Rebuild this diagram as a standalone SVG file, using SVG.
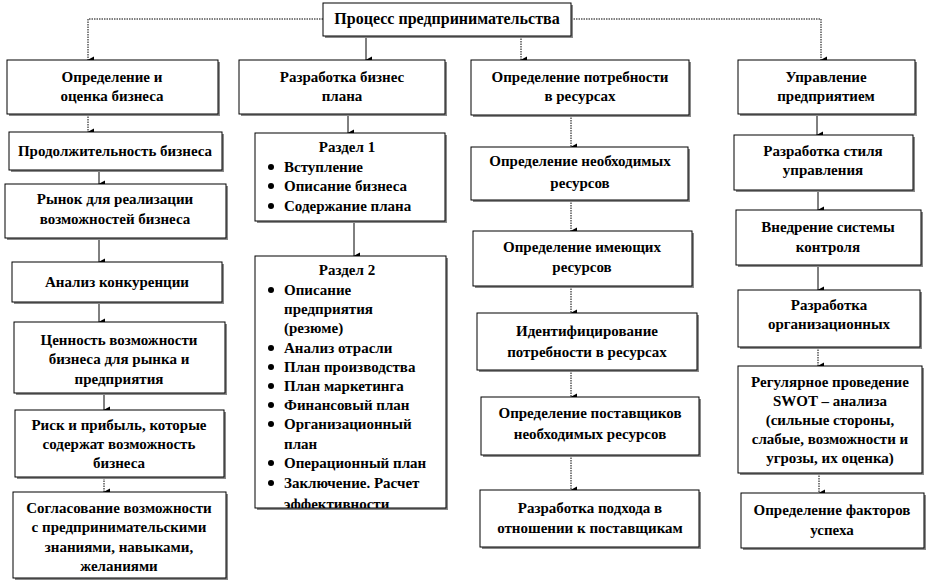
<svg xmlns="http://www.w3.org/2000/svg" width="928" height="582" viewBox="0 0 928 582" font-family="'Liberation Serif','DejaVu Serif',serif">
<style>
.box{fill:#fff;stroke:#000;stroke-width:1}
.sh{fill:#8a8a8a}
text{font-family:"Liberation Serif","DejaVu Serif",serif;font-weight:bold;font-size:15px;fill:#000}
.c{text-anchor:middle}
.ln{fill:none;stroke:#000;stroke-width:1}
.dot{stroke-dasharray:1.5,1}
</style>
<defs>
<marker id="ah" markerWidth="8" markerHeight="8" refX="4" refY="7" orient="auto-start-reverse" markerUnits="userSpaceOnUse" viewBox="0 0 8 8">
<path d="M0.5,1 L7.5,1 L4,7.5 Z" fill="#000"/>
</marker>
<clipPath id="clip2"><rect x="255" y="256" width="191" height="252"/></clipPath>
</defs>
<rect width="928" height="582" fill="#fff"/>

<g id="connectors">
<path class="ln dot" d="M323,19 H88 V60" marker-end="url(#ah)"/>
<path class="ln" d="M366,36 V60" marker-end="url(#ah)"/>
<path class="ln dot" d="M521,36 V60" marker-end="url(#ah)"/>
<path class="ln dot" d="M571,19 H821 V60" marker-end="url(#ah)"/>
<path class="ln dot" d="M88,114 V132" marker-end="url(#ah)"/>
<path class="ln" d="M99,172 V184" marker-end="url(#ah)"/>
<path class="ln" d="M99,240 V262" marker-end="url(#ah)"/>
<path class="ln" d="M99,303 V322" marker-end="url(#ah)"/>
<path class="ln" d="M104,394 V410" marker-end="url(#ah)"/>
<path class="ln dot" d="M104,478 V492" marker-end="url(#ah)"/>
<path class="ln" d="M348,114 V133" marker-end="url(#ah)"/>
<path class="ln" d="M354,221 V256" marker-end="url(#ah)"/>
<path class="ln dot" d="M571,115 V147" marker-end="url(#ah)"/>
<path class="ln dot" d="M571,200 V231" marker-end="url(#ah)"/>
<path class="ln dot" d="M571,286 V313" marker-end="url(#ah)"/>
<path class="ln dot" d="M571,370 V397" marker-end="url(#ah)"/>
<path class="ln dot" d="M571,455 V490" marker-end="url(#ah)"/>
<path class="ln" d="M817,114 V135" marker-end="url(#ah)"/>
<path class="ln" d="M818,190 V210" marker-end="url(#ah)"/>
<path class="ln" d="M818,265 V290" marker-end="url(#ah)"/>
<path class="ln dot" d="M818,347 V366" marker-end="url(#ah)"/>
<path class="ln dot" d="M819,473 V493" marker-end="url(#ah)"/>
</g>

<g id="top">
<rect class="sh" x="325" y="5" width="248" height="33"/>
<rect class="box" x="323" y="3" width="248" height="33"/>
<text class="c" x="447" y="24" style="font-size:16px">Процесс предпринимательства</text>
</g>

<g id="h1">
<rect class="sh" x="9" y="62" width="211" height="54"/>
<rect class="box" x="7" y="60" width="211" height="54"/>
<text class="c" x="112" y="82">Определение и</text>
<text class="c" x="112" y="101">оценка бизнеса</text>
</g>
<g id="h2">
<rect class="sh" x="241" y="62" width="206" height="54"/>
<rect class="box" x="239" y="60" width="206" height="54"/>
<text class="c" x="342" y="82">Разработка бизнес</text>
<text class="c" x="342" y="101">плана</text>
</g>
<g id="h3">
<rect class="sh" x="473" y="62" width="218" height="55"/>
<rect class="box" x="471" y="60" width="218" height="55"/>
<text class="c" x="580" y="82">Определение потребности</text>
<text class="c" x="580" y="101">в ресурсах</text>
</g>
<g id="h4">
<rect class="sh" x="740" y="62" width="177" height="54"/>
<rect class="box" x="738" y="60" width="177" height="54"/>
<text class="c" x="826" y="82">Управление</text>
<text class="c" x="826" y="101">предприятием</text>
</g>

<g id="c1n1">
<rect class="sh" x="11" y="134" width="213" height="38"/>
<rect class="box" x="9" y="132" width="213" height="38"/>
<text class="c" x="115" y="156">Продолжительность бизнеса</text>
</g>
<g id="c1n2">
<rect class="sh" x="7" y="186" width="221" height="54"/>
<rect class="box" x="5" y="184" width="221" height="54"/>
<text class="c" x="115" y="204">Рынок для реализации</text>
<text class="c" x="115" y="224">возможностей бизнеса</text>
</g>
<g id="c1n3">
<rect class="sh" x="14" y="264" width="210" height="40"/>
<rect class="box" x="12" y="262" width="210" height="40"/>
<text class="c" x="117" y="287">Анализ конкуренции</text>
</g>
<g id="c1n4">
<rect class="sh" x="16" y="324" width="211" height="71"/>
<rect class="box" x="14" y="322" width="211" height="71"/>
<text class="c" x="119" y="345">Ценность возможности</text>
<text class="c" x="119" y="364">бизнеса для рынка и</text>
<text class="c" x="119" y="384">предприятия</text>
</g>
<g id="c1n5">
<rect class="sh" x="17" y="412" width="209" height="67"/>
<rect class="box" x="15" y="410" width="209" height="67"/>
<text class="c" x="119" y="430">Риск и прибыль, которые</text>
<text class="c" x="119" y="449">содержат возможность</text>
<text class="c" x="119" y="468">бизнеса</text>
</g>
<g id="c1n6">
<rect class="sh" x="15" y="494" width="213" height="86"/>
<rect class="box" x="13" y="492" width="213" height="86"/>
<text class="c" x="119" y="513">Согласование возможности</text>
<text class="c" x="119" y="532">с предпринимательскими</text>
<text class="c" x="119" y="552">знаниями, навыками,</text>
<text class="c" x="119" y="571">желаниями</text>
</g>

<g id="c2n1">
<rect class="sh" x="257" y="135" width="190" height="88"/>
<rect class="box" x="255" y="133" width="190" height="88"/>
<text class="c" x="347" y="152">Раздел 1</text>
<circle cx="271" cy="167" r="3"/><text x="284" y="172">Вступление</text>
<circle cx="271" cy="186" r="3"/><text x="284" y="191">Описание бизнеса</text>
<circle cx="271" cy="206" r="3"/><text x="284" y="211">Содержание плана</text>
</g>
<g id="c2n2">
<rect class="sh" x="257" y="258" width="191" height="252"/>
<rect class="box" x="255" y="256" width="191" height="252"/>
<g clip-path="url(#clip2)">
<text class="c" x="347" y="275">Раздел 2</text>
<circle cx="271" cy="290" r="3"/><text x="284" y="295">Описание</text>
<text x="284" y="314">предприятия</text>
<text x="284" y="333">(резюме)</text>
<circle cx="271" cy="348" r="3"/><text x="284" y="353">Анализ отрасли</text>
<circle cx="271" cy="367" r="3"/><text x="284" y="372">План производства</text>
<circle cx="271" cy="386" r="3"/><text x="284" y="391">План маркетинга</text>
<circle cx="271" cy="405" r="3"/><text x="284" y="410">Финансовый план</text>
<circle cx="271" cy="424" r="3"/><text x="284" y="429">Организационный</text>
<text x="284" y="449">план</text>
<circle cx="271" cy="463" r="3"/><text x="284" y="468">Операционный план</text>
<circle cx="271" cy="483" r="3"/><text x="284" y="488">Заключение. Расчет</text>
<text x="284" y="509">эффективности</text>
</g>
</g>

<g id="c3n1">
<rect class="sh" x="473" y="149" width="217" height="53"/>
<rect class="box" x="471" y="147" width="217" height="53"/>
<text class="c" x="580" y="166">Определение необходимых</text>
<text class="c" x="580" y="188">ресурсов</text>
</g>
<g id="c3n2">
<rect class="sh" x="475" y="233" width="219" height="55"/>
<rect class="box" x="473" y="231" width="219" height="55"/>
<text class="c" x="582" y="252">Определение имеющих</text>
<text class="c" x="582" y="272">ресурсов</text>
</g>
<g id="c3n3">
<rect class="sh" x="479" y="315" width="220" height="57"/>
<rect class="box" x="477" y="313" width="220" height="57"/>
<text class="c" x="587" y="336">Идентифицирование</text>
<text class="c" x="587" y="357">потребности в  ресурсах</text>
</g>
<g id="c3n4">
<rect class="sh" x="483" y="399" width="218" height="58"/>
<rect class="box" x="481" y="397" width="218" height="58"/>
<text class="c" x="590" y="418">Определение поставщиков</text>
<text class="c" x="590" y="439">необходимых ресурсов</text>
</g>
<g id="c3n5">
<rect class="sh" x="482" y="492" width="219" height="57"/>
<rect class="box" x="480" y="490" width="219" height="57"/>
<text class="c" x="590" y="513">Разработка подхода в</text>
<text class="c" x="590" y="533">отношении к поставщикам</text>
</g>

<g id="c4n1">
<rect class="sh" x="736" y="137" width="179" height="55"/>
<rect class="box" x="734" y="135" width="179" height="55"/>
<text class="c" x="823" y="156">Разработка стиля</text>
<text class="c" x="823" y="175">управления</text>
</g>
<g id="c4n2">
<rect class="sh" x="738" y="212" width="185" height="55"/>
<rect class="box" x="736" y="210" width="185" height="55"/>
<text class="c" x="828" y="232">Внедрение системы</text>
<text class="c" x="828" y="252">контроля</text>
</g>
<g id="c4n3">
<rect class="sh" x="740" y="292" width="182" height="57"/>
<rect class="box" x="738" y="290" width="182" height="57"/>
<text class="c" x="829" y="310">Разработка</text>
<text class="c" x="829" y="329">организационных</text>
</g>
<g id="c4n4">
<rect class="sh" x="740" y="368" width="184" height="107"/>
<rect class="box" x="738" y="366" width="184" height="107"/>
<text class="c" x="830" y="387">Регулярное проведение</text>
<text class="c" x="830" y="406">SWOT – анализа</text>
<text class="c" x="830" y="425">(сильные стороны,</text>
<text class="c" x="830" y="444">слабые, возможности и</text>
<text class="c" x="830" y="463">угрозы, их оценка)</text>
</g>
<g id="c4n5">
<rect class="sh" x="743" y="495" width="183" height="55"/>
<rect class="box" x="741" y="493" width="183" height="55"/>
<text class="c" x="832" y="515">Определение факторов</text>
<text class="c" x="832" y="535">успеха</text>
</g>
</svg>
